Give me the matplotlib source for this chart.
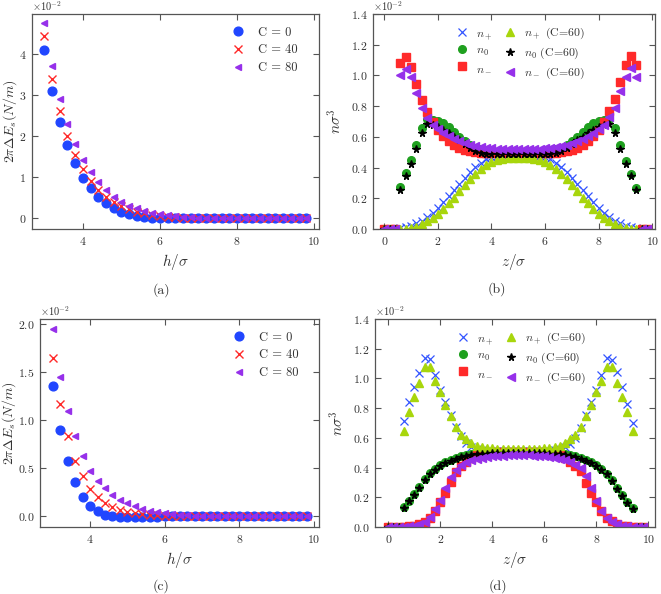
import numpy as np
import matplotlib
matplotlib.use("Agg")
import matplotlib.pyplot as plt

plt.rcParams['font.family'] = 'serif'
plt.rcParams['font.serif'] = ['cmr10']
plt.rcParams['mathtext.fontset'] = 'cm'
plt.rcParams['axes.formatter.use_mathtext'] = True
plt.rcParams['axes.unicode_minus'] = True

# ---- data: panels (a) and (c), energy vs h/sigma (values in units of 1e-2)
h = [3.0, 3.2, 3.4, 3.6, 3.8, 4.0, 4.2, 4.4, 4.6, 4.8, 5.0, 5.2, 5.4, 5.6, 5.8,
     6.0, 6.2, 6.4, 6.6, 6.8, 7.0, 7.2, 7.4, 7.6, 7.8, 8.0, 8.2, 8.4, 8.6, 8.8,
     9.0, 9.2, 9.4, 9.6, 9.8]

a_c0 = [4.10, 3.10, 2.35, 1.79, 1.34, 0.99, 0.73, 0.52, 0.37, 0.25, 0.16, 0.10, 0.06, 0.035, 0.02,
        0.01, 0.005, 0, 0, 0, 0, 0, 0, 0, 0, 0, 0, 0, 0, 0, 0, 0, 0, 0, 0]
a_c40 = [4.44, 3.40, 2.62, 2.01, 1.55, 1.20, 0.91, 0.70, 0.53, 0.40, 0.30, 0.22, 0.16, 0.12, 0.08,
         0.06, 0.04, 0.03, 0.02, 0.01, 0.005, 0, 0, 0, 0, 0, 0, 0, 0, 0, 0, 0, 0, 0, 0]
a_c80 = [4.77, 3.71, 2.92, 2.30, 1.81, 1.43, 1.12, 0.88, 0.68, 0.52, 0.40, 0.31, 0.24, 0.18, 0.13,
         0.10, 0.07, 0.05, 0.04, 0.03, 0.02, 0.01, 0.005, 0, 0, 0, 0, 0, 0, 0, 0, 0, 0, 0, 0]

c_c0 = [1.35, 0.90, 0.58, 0.36, 0.20, 0.11, 0.055, 0.012, 0.0, -0.005, -0.008, -0.008, -0.006, -0.004, -0.002,
        0, 0, 0, 0, 0, 0, 0, 0, 0, 0, 0, 0, 0, 0, 0, 0, 0, 0, 0, 0]
c_c40 = [1.64, 1.165, 0.83, 0.58, 0.415, 0.285, 0.20, 0.14, 0.10, 0.07, 0.05, 0.035, 0.025, 0.015, 0.01,
         0.006, 0.003, 0, 0, 0, 0, 0, 0, 0, 0, 0, 0, 0, 0, 0, 0, 0, 0, 0, 0]
c_c80 = [1.95, 1.45, 1.09, 0.83, 0.63, 0.47, 0.37, 0.29, 0.225, 0.175, 0.135, 0.105, 0.08, 0.06, 0.045,
         0.035, 0.025, 0.018, 0.012, 0.008, 0.005, 0, 0, 0, 0, 0, 0, 0, 0, 0, 0, 0, 0, 0, 0]

# ---- data: panels (b) and (d), density profiles vs z/sigma (units of 1e-2)
z = [0.0, 0.2, 0.4, 0.6, 0.8, 1.0, 1.2, 1.4, 1.6, 1.8, 2.0, 2.2, 2.4, 2.6, 2.8,
     3.0, 3.2, 3.4, 3.6, 3.8, 4.0, 4.2, 4.4, 4.6, 4.8, 5.0, 5.2, 5.4, 5.6, 5.8,
     6.0, 6.2, 6.4, 6.6, 6.8, 7.0, 7.2, 7.4, 7.6, 7.8, 8.0, 8.2, 8.4, 8.6, 8.8,
     9.0, 9.2, 9.4, 9.6, 9.8]

b_np = [0, 0, 0, 0.005, 0.012, 0.022, 0.036, 0.054, 0.076, 0.105, 0.138, 0.175, 0.213, 0.253, 0.293,
        0.333, 0.370, 0.404, 0.432, 0.453, 0.468, 0.477, 0.483, 0.486, 0.488, 0.488,
        0.488, 0.486, 0.483, 0.477, 0.468, 0.453, 0.432, 0.404, 0.370, 0.333, 0.293, 0.253, 0.213,
        0.175, 0.138, 0.105, 0.076, 0.054, 0.036, 0.022, 0.012, 0.005, 0, 0]
b_n0 = [0, 0, 0, 0.273, 0.362, 0.450, 0.548, 0.656, 0.716, 0.713, 0.703, 0.688, 0.664, 0.632, 0.600,
        0.570, 0.546, 0.530, 0.520, 0.512, 0.507, 0.504, 0.503, 0.502, 0.502, 0.502,
        0.502, 0.502, 0.503, 0.504, 0.507, 0.512, 0.520, 0.530, 0.546, 0.570, 0.600, 0.632, 0.664,
        0.688, 0.703, 0.713, 0.716, 0.656, 0.548, 0.440, 0.357, 0.267, 0, 0]
b_nm = [0, 0, 0, 1.083, 1.122, 1.057, 0.945, 0.838, 0.760, 0.700, 0.645, 0.605, 0.575, 0.550, 0.530,
        0.515, 0.505, 0.500, 0.497, 0.496, 0.496, 0.496, 0.496, 0.496, 0.496, 0.496,
        0.496, 0.496, 0.496, 0.496, 0.496, 0.496, 0.497, 0.500, 0.505, 0.515, 0.530, 0.550, 0.575,
        0.605, 0.645, 0.700, 0.770, 0.847, 0.956, 1.066, 1.127, 1.068, 0, 0]
b_npc = [0, 0, 0, 0.0, 0.002, 0.006, 0.015, 0.030, 0.050, 0.072, 0.100, 0.132, 0.167, 0.205, 0.245,
         0.285, 0.325, 0.360, 0.390, 0.415, 0.435, 0.448, 0.456, 0.461, 0.464, 0.465,
         0.464, 0.461, 0.456, 0.448, 0.435, 0.415, 0.390, 0.360, 0.325, 0.285, 0.245, 0.205, 0.167,
         0.132, 0.100, 0.072, 0.050, 0.030, 0.015, 0.006, 0.002, 0.0, 0, 0]
b_n0c = [0, 0, 0, 0.252, 0.344, 0.424, 0.520, 0.622, 0.682, 0.680, 0.665, 0.645, 0.622, 0.600, 0.577,
         0.553, 0.530, 0.510, 0.497, 0.490, 0.487, 0.487, 0.487, 0.487, 0.487, 0.487,
         0.487, 0.487, 0.487, 0.487, 0.487, 0.490, 0.497, 0.510, 0.530, 0.553, 0.577, 0.600, 0.622,
         0.645, 0.665, 0.680, 0.682, 0.622, 0.520, 0.424, 0.344, 0.252, 0, 0]
b_nmc = [0, 0, 0, 1.005, 1.045, 0.987, 0.886, 0.788, 0.722, 0.678, 0.650, 0.625, 0.603, 0.585, 0.570,
         0.558, 0.548, 0.540, 0.534, 0.529, 0.525, 0.523, 0.522, 0.521, 0.521, 0.521,
         0.521, 0.521, 0.522, 0.523, 0.525, 0.529, 0.534, 0.540, 0.548, 0.558, 0.570, 0.585, 0.603,
         0.625, 0.650, 0.678, 0.730, 0.790, 0.897, 0.990, 1.050, 0.992, 0, 0]

d_np = [0, 0, 0, 0.715, 0.842, 0.942, 1.038, 1.138, 1.132, 1.020, 0.922, 0.838, 0.752, 0.676, 0.612,
        0.565, 0.538, 0.522, 0.515, 0.512, 0.510, 0.510, 0.510, 0.510, 0.510, 0.510,
        0.510, 0.510, 0.510, 0.510, 0.510, 0.512, 0.515, 0.522, 0.538, 0.560, 0.597, 0.665, 0.752,
        0.838, 0.922, 1.020, 1.140, 1.127, 1.040, 0.940, 0.829, 0.700, 0, 0]
d_n0 = [0, 0, 0, 0.132, 0.177, 0.220, 0.268, 0.322, 0.365, 0.392, 0.416, 0.436, 0.452, 0.465, 0.475,
        0.483, 0.489, 0.493, 0.496, 0.498, 0.500, 0.500, 0.500, 0.500, 0.500, 0.500,
        0.500, 0.500, 0.500, 0.500, 0.500, 0.498, 0.496, 0.493, 0.489, 0.483, 0.475, 0.465, 0.452,
        0.436, 0.416, 0.392, 0.360, 0.315, 0.262, 0.213, 0.166, 0.128, 0, 0]
d_nm = [0, 0, 0, 0.002, 0.005, 0.010, 0.020, 0.035, 0.062, 0.105, 0.167, 0.228, 0.300, 0.367, 0.410,
        0.440, 0.465, 0.482, 0.492, 0.498, 0.502, 0.503, 0.503, 0.503, 0.503, 0.503,
        0.503, 0.503, 0.503, 0.503, 0.502, 0.498, 0.492, 0.482, 0.465, 0.440, 0.410, 0.374, 0.295,
        0.228, 0.165, 0.105, 0.060, 0.038, 0.020, 0.010, 0.005, 0.002, 0, 0]
d_npc = [0, 0, 0, 0.648, 0.777, 0.876, 0.972, 1.076, 1.078, 0.980, 0.906, 0.822, 0.746, 0.671, 0.621,
         0.589, 0.563, 0.547, 0.538, 0.533, 0.530, 0.528, 0.528, 0.528, 0.528, 0.528,
         0.528, 0.528, 0.528, 0.528, 0.530, 0.533, 0.538, 0.547, 0.563, 0.589, 0.621, 0.671, 0.746,
         0.822, 0.906, 0.980, 1.078, 1.076, 0.972, 0.876, 0.777, 0.648, 0, 0]
d_n0c = [0, 0, 0, 0.127, 0.172, 0.215, 0.263, 0.316, 0.360, 0.387, 0.411, 0.431, 0.447, 0.460, 0.470,
         0.478, 0.484, 0.488, 0.491, 0.493, 0.495, 0.495, 0.495, 0.495, 0.495, 0.495,
         0.495, 0.495, 0.495, 0.495, 0.495, 0.493, 0.491, 0.488, 0.484, 0.478, 0.470, 0.460, 0.447,
         0.431, 0.411, 0.387, 0.355, 0.310, 0.257, 0.208, 0.161, 0.123, 0, 0]
d_nmc = [0, 0, 0, 0.002, 0.005, 0.010, 0.020, 0.037, 0.068, 0.118, 0.185, 0.262, 0.335, 0.385, 0.415,
         0.435, 0.450, 0.460, 0.467, 0.472, 0.476, 0.479, 0.481, 0.482, 0.482, 0.482,
         0.482, 0.482, 0.481, 0.479, 0.476, 0.472, 0.467, 0.460, 0.450, 0.435, 0.415, 0.400, 0.341,
         0.262, 0.172, 0.105, 0.060, 0.033, 0.020, 0.010, 0.005, 0.002, 0, 0]

BLUE = '#2146ff'
RED = '#ff2a2a'
PURPLE = '#9630ea'
GREEN = '#1fa01f'
YGREEN = '#a8d60c'
TXT = '#333333'
EDGE = '#555555'

fig = plt.figure(figsize=(6.61, 5.94), dpi=100)
W, H = 661.0, 594.0


def make_ax(l, t, r, b):
    ax = fig.add_axes([l / W, 1 - b / H, (r - l) / W, (b - t) / H])
    for sp in ax.spines.values():
        sp.set_color(EDGE)
        sp.set_linewidth(0.9)
    ax.tick_params(direction='in', top=True, right=True, length=4, width=0.8,
                   color=EDGE, labelcolor=TXT, labelsize=8.5, pad=4)
    # the plotted values are in units of 1e-2
    ax.annotate(r'$\times10^{-2}$', xy=(0, 1), xycoords='axes fraction',
                xytext=(0, 0.5), textcoords='offset points', ha='left', va='bottom',
                fontsize=7.5, color=TXT)
    return ax


# (a)
ax = make_ax(32, 14, 319, 229)
ax.plot(h, a_c0, 'o', color=BLUE, ms=6.3, mec=BLUE, label='C = 0')
ax.plot(h, a_c40, 'x', color=RED, ms=6, mew=1.0, label='C = 40')
ax.plot(h, a_c80, '<', color=PURPLE, ms=5, mec=PURPLE, label='C = 80')
ax.set_xlim(2.68, 10.13)
ax.set_ylim(-0.26, 4.98)
ax.set_xticks([4, 6, 8, 10])
ax.set_yticks([0, 1, 2, 3, 4])
ax.set_xlabel(r'$h/\sigma$', fontsize=11, color=TXT)
ax.set_ylabel(r'$2\pi\Delta E_s(N/m)$', fontsize=10, color=TXT, labelpad=0)
ax.legend(loc='upper right', frameon=False, fontsize=9, labelspacing=0.45,
          handletextpad=0.6, borderaxespad=0.6, bbox_to_anchor=(0.97, 1.0), labelcolor=TXT)

# (c)
ax = make_ax(40, 319, 319, 527)
ax.plot(h, c_c0, 'o', color=BLUE, ms=6.3, mec=BLUE, label='C = 0')
ax.plot(h, c_c40, 'x', color=RED, ms=6, mew=1.0, label='C = 40')
ax.plot(h, c_c80, '<', color=PURPLE, ms=5, mec=PURPLE, label='C = 80')
ax.set_xlim(2.66, 10.13)
ax.set_ylim(-0.11, 2.05)
ax.set_xticks([4, 6, 8, 10])
ax.set_yticks([0, 0.5, 1.0, 1.5, 2.0])
ax.set_xlabel(r'$h/\sigma$', fontsize=11, color=TXT)
ax.set_ylabel(r'$2\pi\Delta E_s(N/m)$', fontsize=10, color=TXT, labelpad=0)
ax.legend(loc='upper right', frameon=False, fontsize=9, labelspacing=0.45,
          handletextpad=0.6, borderaxespad=0.6, bbox_to_anchor=(0.97, 1.0), labelcolor=TXT)


def profile(ax, np_, n0, nm, npc, n0c, nmc):
    ax.plot(z, np_, 'x', color='#3355ff', ms=5.5, mew=0.9, label=r'$n_+$')
    ax.plot(z, n0, 'o', color=GREEN, ms=5.5, label=r'$n_0$')
    ax.plot(z, nm, 's', color=RED, ms=5.2, label=r'$n_-$')
    ax.plot(z, npc, '^', color=YGREEN, ms=5.5, label=r'$n_+$ (C=60)')
    ax.plot(z, n0c, '*', color='black', ms=5.5, label=r'$n_0$ (C=60)')
    ax.plot(z, nmc, '<', color=PURPLE, ms=5.5, label=r'$n_-$ (C=60)')
    ax.set_ylim(0, 1.4)
    ax.set_xticks([0, 2, 4, 6, 8, 10])
    ax.set_yticks([0, 0.2, 0.4, 0.6, 0.8, 1.0, 1.2, 1.4])
    ax.set_xlabel(r'$z/\sigma$', fontsize=11, color=TXT)
    ax.set_ylabel(r'$n\sigma^3$', fontsize=11, color=TXT)
    ax.legend(loc='upper center', bbox_to_anchor=(0.515, 1.0), ncol=2, frameon=False,
              fontsize=8.5, labelspacing=0.4, handletextpad=0.3, columnspacing=0.6,
              handlelength=1.8, borderaxespad=0.6, labelcolor=TXT)


# (b)
ax = make_ax(373, 14, 655, 229)
profile(ax, b_np, b_n0, b_nm, b_npc, b_n0c, b_nmc)
ax.set_xlim(-0.42, 10.1)

# (d)
ax = make_ax(375, 319, 655, 527)
profile(ax, d_np, d_n0, d_nm, d_npc, d_n0c, d_nmc)
ax.set_xlim(-0.51, 10.26)

for lab, x, y in [('(a)', 161, 290), ('(b)', 497, 289), ('(c)', 161, 586), ('(d)', 498, 586)]:
    fig.text(x / W, 1 - y / H, lab, ha='center', va='center', fontsize=10, color=TXT)

fig.savefig('out.png', dpi=100)
